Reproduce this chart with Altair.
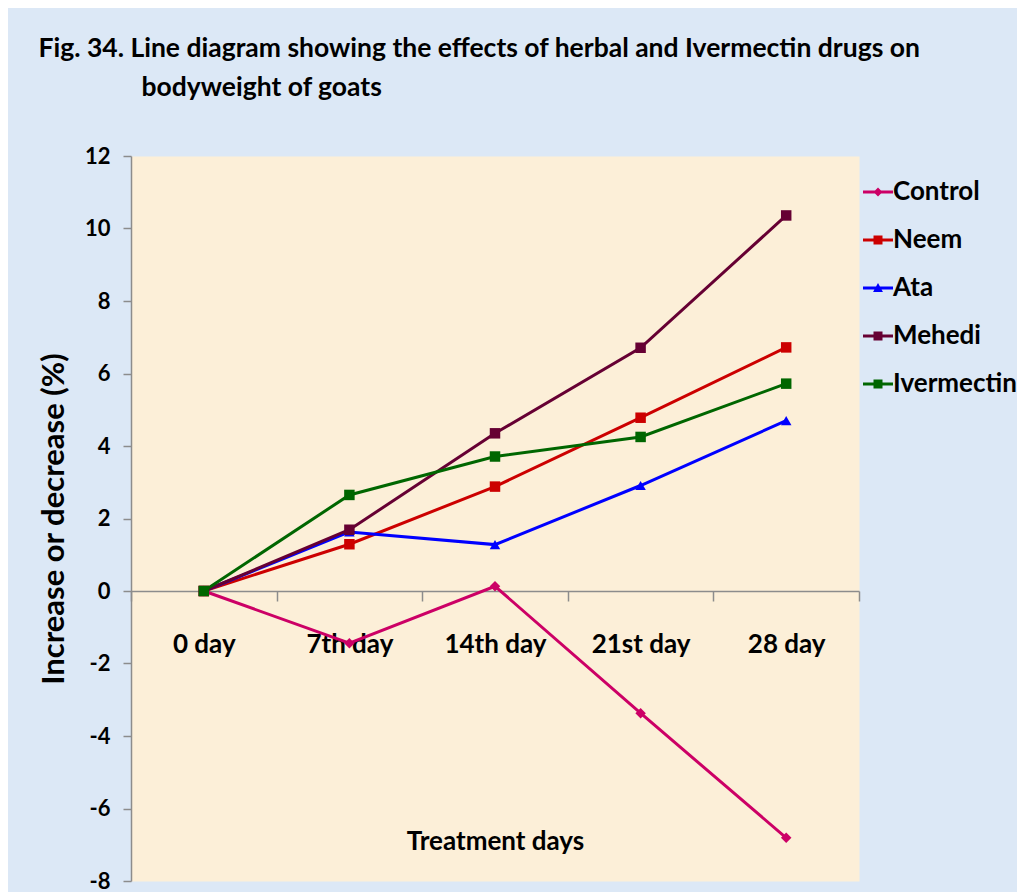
import altair as alt
import pandas as pd

days = ["0 day", "7th day", "14th day", "21st day", "28 day"]
series = ["Control", "Neem", "Ata", "Mehedi", "Ivermectin"]
control = [0, -1.44, 0.13, -3.37, -6.81]
neem = [0, 1.29, 2.88, 4.78, 6.72]
ata = [0, 1.63, 1.28, 2.91, 4.70]
mehedi = [0, 1.69, 4.35, 6.71, 10.36]
ivermectin = [0, 2.65, 3.71, 4.25, 5.72]
y_ticks = [-8, -6, -4, -2, 0, 2, 4, 6, 8, 10, 12]

line_colors = ["#CC0066", "#CC0000", "#0000FF", "#660033", "#006600"]
marker_shapes = ["diamond", "square", "triangle-up", "square", "square"]
bar = "M-1,-0.1H1V0.1H-1Z"
legend_shapes = [
    bar + "M0,-0.3L0.3,0L0,0.3L-0.3,0Z",
    bar + "M-0.3,-0.3H0.3V0.3H-0.3Z",
    bar + "M0,-0.33L0.33,0.27H-0.33Z",
    bar + "M-0.3,-0.3H0.3V0.3H-0.3Z",
    bar + "M-0.3,-0.3H0.3V0.3H-0.3Z",
]

rows = []
for s, vals in zip(series, [control, neem, ata, mehedi, ivermectin]):
    for d, v in zip(days, vals):
        rows.append({"Series": s, "Day": d, "Value": v})
df = pd.DataFrame(rows)

FONT = "Lato"
W, H = 728, 725
GREY = "#8C8C8C"

x = alt.X(
    "Day:N",
    sort=days,
    scale=alt.Scale(type="band", paddingInner=0, paddingOuter=0),
    axis=alt.Axis(
        orient="bottom",
        offset=-H * 8 / 20,
        tickBand="extent",
        tickSize=10,
        tickColor=GREY,
        tickWidth=1.5,
        domainColor=GREY,
        domainWidth=1.5,
        labelAngle=0,
        labelFont=FONT,
        labelFontSize=26,
        labelFontWeight="bold",
        labelColor="black",
        labelPadding=30,
        title="Treatment days",
        titleFont=FONT,
        titleFontSize=26,
        titleFontWeight="bold",
        titleColor="black",
        titleY=250,
        titleBaseline="middle",
    ),
)
y = alt.Y(
    "Value:Q",
    scale=alt.Scale(domain=[-8, 12], nice=False, zero=False),
    axis=alt.Axis(
        values=y_ticks,
        labelExpr="datum.value",
        grid=False,
        tickSize=8,
        tickColor=GREY,
        tickWidth=1.5,
        domainColor=GREY,
        domainWidth=1.5,
        labelFont=FONT,
        labelFontSize=22,
        labelFontWeight="bold",
        labelColor="black",
        labelPadding=13,
        title="Increase or decrease (%)",
        titleFont=FONT,
        titleFontSize=31,
        titleFontWeight="bold",
        titleColor="black",
        titlePadding=14,
    ),
)
color_scale = alt.Scale(domain=series, range=line_colors)

base = alt.Chart(df)
lines = base.mark_line(strokeWidth=3).encode(
    x=x, y=y, color=alt.Color("Series:N", scale=color_scale, legend=None)
)
points = base.mark_point(filled=True, size=110, opacity=1).encode(
    x=x,
    y=y,
    color=alt.Color("Series:N", scale=color_scale, legend=None),
    shape=alt.Shape("Series:N", scale=alt.Scale(domain=series, range=marker_shapes), legend=None),
)
leg = alt.Legend(
    title=None,
    orient="none",
    legendX=W + 4,
    legendY=21,
    symbolSize=900,
    symbolOpacity=1,
    symbolStrokeWidth=0,
    labelFont=FONT,
    labelFontSize=26,
    labelFontWeight="bold",
    labelColor="black",
    labelOffset=0,
    rowPadding=20,
)
legend_layer = base.mark_point(filled=True, size=1, opacity=0).encode(
    x=x,
    y=y,
    color=alt.Color("Series:N", scale=color_scale, legend=leg),
    shape=alt.Shape("Series:N", scale=alt.Scale(domain=series, range=legend_shapes), legend=leg),
)

chart = (
    alt.layer(lines, points, legend_layer)
    .resolve_scale(shape="independent", color="independent")
    .properties(
        width=W,
        height=H,
        padding={"left": 30, "top": 27, "right": 0, "bottom": 0},
        title=alt.TitleParams(
            text=[
                "Fig. 34. Line diagram showing the effects of herbal and Ivermectin drugs on",
                "\u200b" + "\u00a0" * 16 + "bodyweight of goats",
            ],
            anchor="start",
            frame="bounds",
            font=FONT,
            fontSize=26.5,
            fontWeight="bold",
            color="black",
            lineHeight=39,
            offset=44,
        ),
        background="#DCE8F6",
    )
    .configure_view(fill="#FCEFD8", stroke="transparent")
)

chart.save("out.html", embed_options={"renderer": "svg", "actions": False})
